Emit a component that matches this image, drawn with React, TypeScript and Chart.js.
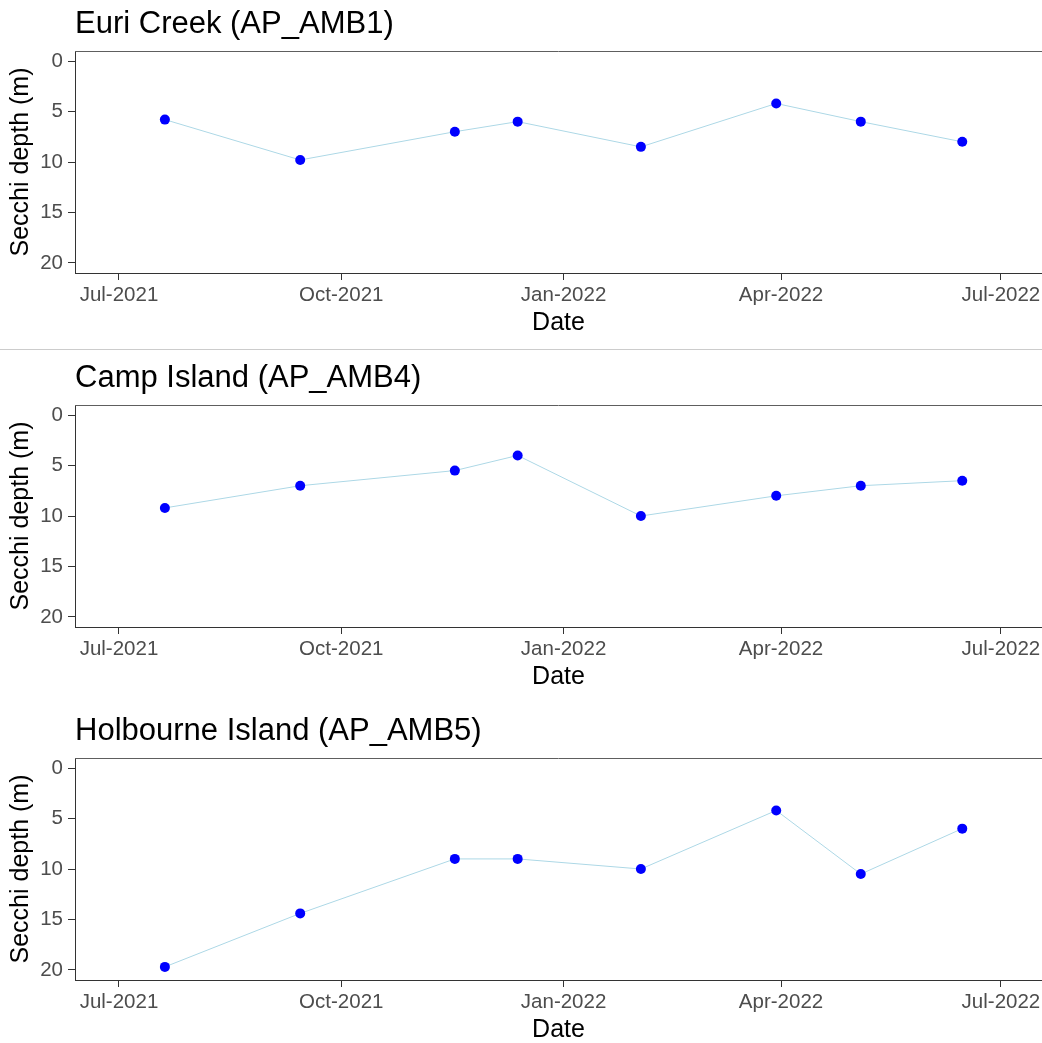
import React, { useEffect, useRef } from 'react';
import { Chart, registerables } from 'chart.js';

Chart.register(...registerables);

// Secchi depth survey dates (shared by all three sites)
const SAMPLE_DATES = [
  '2021-07-20',
  '2021-09-14',
  '2021-11-17',
  '2021-12-13',
  '2022-02-02',
  '2022-03-30',
  '2022-05-04',
  '2022-06-15',
];

// Secchi depth (m) per site
const EURI_CREEK_DEPTH = [5.8, 9.8, 7.0, 6.0, 8.5, 4.2, 6.0, 8.0];
const CAMP_ISLAND_DEPTH = [9.2, 7.0, 5.5, 4.0, 10.0, 8.0, 7.0, 6.5];
const HOLBOURNE_ISLAND_DEPTH = [19.7, 14.4, 9.0, 9.0, 10.0, 4.2, 10.5, 6.0];

const SITE_TITLES = ['Euri Creek (AP_AMB1)', 'Camp Island (AP_AMB4)', 'Holbourne Island (AP_AMB5)'];

const X_TICK_DATES = ['2021-07-01', '2021-10-01', '2022-01-01', '2022-04-01', '2022-07-01'];
const X_TICK_LABELS = ['Jul-2021', 'Oct-2021', 'Jan-2022', 'Apr-2022', 'Jul-2022'];
const Y_TICKS = [0, 5, 10, 15, 20];
const Y_AXIS_TITLE = 'Secchi depth (m)';
const X_AXIS_TITLE = 'Date';

const FONT_FAMILY = "'Liberation Sans', Arial, Helvetica, sans-serif";
const CANVAS_W = 1042;
const CANVAS_H = 342;
const PLOT_LEFT = 75;
const X_AXIS_HEIGHT = 69;
const AXIS_COLOR = '#333333';
const TICK_TEXT = '#4d4d4d';

// dates are placed on a linear axis measured in days
const dayNum = (iso: string) => {
  const [y, m, d] = iso.split('-').map(Number);
  return Date.UTC(y, m - 1, d) / 86400000;
};

const X_MIN = dayNum('2021-07-01') - 18.2;
const X_MAX = dayNum('2022-07-01') + 17.0;

// thin grey line along the top of the plotting panel
const panelTopLine = {
  id: 'panelTopLine',
  afterDraw(chart: any) {
    const { ctx, chartArea } = chart;
    ctx.save();
    ctx.strokeStyle = '#5e5e5e';
    ctx.lineWidth = 1;
    ctx.beginPath();
    ctx.moveTo(chartArea.left, chartArea.top + 0.5);
    ctx.lineTo(chartArea.right, chartArea.top + 0.5);
    ctx.stroke();
    ctx.restore();
  },
};

function DepthPanel({ title, values, top }: { title: string; values: number[]; top: number }) {
  const ref = useRef<HTMLCanvasElement>(null);

  useEffect(() => {
    if (!ref.current) return;
    const chart = new Chart(ref.current, {
      type: 'line',
      data: {
        datasets: [
          {
            data: SAMPLE_DATES.map((d, i) => ({ x: dayNum(d), y: values[i] })),
            borderColor: '#add8e6',
            borderWidth: 1,
            pointRadius: 5,
            pointBackgroundColor: '#0000ff',
            pointBorderColor: '#0000ff',
            pointBorderWidth: 0,
            tension: 0,
          },
        ],
      },
      options: {
        responsive: false,
        animation: false,
        events: [],
        layout: { padding: 0, autoPadding: false },
        plugins: {
          legend: { display: false },
          tooltip: { enabled: false },
          title: {
            display: true,
            text: title,
            align: 'start',
            fullSize: false,
            color: '#000000',
            font: { size: 31, family: FONT_FAMILY, weight: 'normal', lineHeight: 1.2 },
            padding: { top: 5.5, bottom: 8.3 },
          },
        },
        scales: {
          x: {
            type: 'linear',
            min: X_MIN,
            max: X_MAX,
            afterBuildTicks: (scale: any) => {
              scale.ticks = X_TICK_DATES.map((d) => ({ value: dayNum(d) }));
            },
            afterFit: (scale: any) => {
              scale.height = X_AXIS_HEIGHT;
              scale.paddingLeft = 0;
              scale.paddingRight = 0;
            },
            ticks: {
              autoSkip: false,
              maxRotation: 0,
              padding: 3,
              color: TICK_TEXT,
              font: { size: 20.5, family: FONT_FAMILY, lineHeight: 1.2 },
              callback: (_v: any, i: number) => X_TICK_LABELS[i],
            },
            grid: {
              display: true,
              drawOnChartArea: false,
              drawTicks: true,
              tickLength: 7,
              tickColor: AXIS_COLOR,
              tickWidth: 1,
            },
            border: { display: true, color: AXIS_COLOR, width: 1 },
            title: {
              display: true,
              text: X_AXIS_TITLE,
              color: '#000000',
              font: { size: 25, family: FONT_FAMILY, lineHeight: 1.2 },
              padding: { top: 0, bottom: 4 },
            },
          },
          y: {
            type: 'linear',
            reverse: true,
            min: -1,
            max: 21,
            afterBuildTicks: (scale: any) => {
              scale.ticks = Y_TICKS.map((v) => ({ value: v }));
            },
            afterFit: (scale: any) => {
              scale.width = PLOT_LEFT;
              scale.paddingTop = 0;
              scale.paddingBottom = 0;
            },
            ticks: {
              padding: 5,
              color: TICK_TEXT,
              font: { size: 20.5, family: FONT_FAMILY, lineHeight: 1.2 },
              callback: (v: any) => String(v),
            },
            grid: {
              display: true,
              drawOnChartArea: false,
              drawTicks: true,
              tickLength: 7,
              tickColor: AXIS_COLOR,
              tickWidth: 1,
            },
            border: { display: true, color: AXIS_COLOR, width: 1 },
            title: {
              display: true,
              text: Y_AXIS_TITLE,
              color: '#000000',
              font: { size: 25, family: FONT_FAMILY, lineHeight: 1.2 },
              padding: { top: 6, bottom: 0 },
            },
          },
        },
      },
      plugins: [panelTopLine],
    } as any);
    return () => chart.destroy();
  }, [title, values]);

  return (
    <canvas
      ref={ref}
      width={CANVAS_W}
      height={CANVAS_H}
      style={{ position: 'absolute', left: 0, top, display: 'block' }}
    />
  );
}

export default function App() {
  return (
    <div
      style={{
        position: 'absolute',
        left: 0,
        top: 0,
        width: CANVAS_W,
        height: 1043,
        background: '#ffffff',
        overflow: 'hidden',
      }}
    >
      <DepthPanel title={SITE_TITLES[0]} values={EURI_CREEK_DEPTH} top={0} />
      <div
        style={{
          position: 'absolute',
          left: 0,
          top: 349,
          width: CANVAS_W,
          height: 1,
          background: '#cccccc',
        }}
      />
      <DepthPanel title={SITE_TITLES[1]} values={CAMP_ISLAND_DEPTH} top={354} />
      <DepthPanel title={SITE_TITLES[2]} values={HOLBOURNE_ISLAND_DEPTH} top={707} />
    </div>
  );
}
